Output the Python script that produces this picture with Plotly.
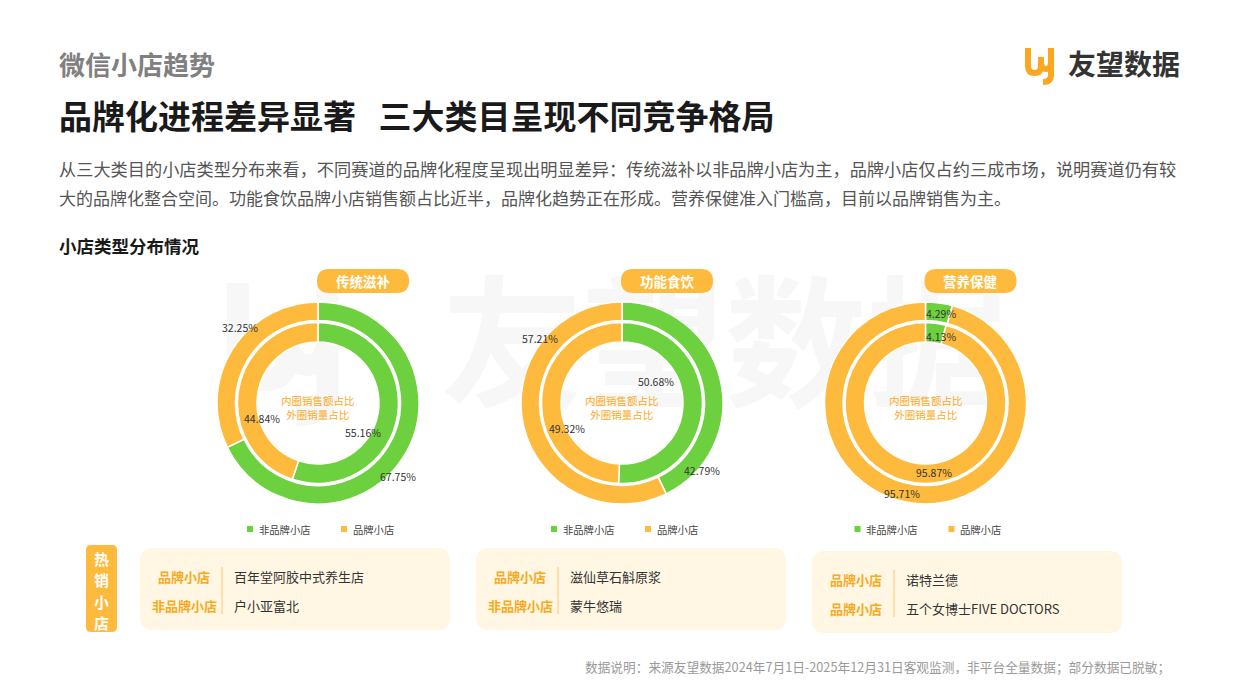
import plotly.graph_objects as go

# ---------------- data ----------------
categories = ["传统滋补", "功能食饮", "营养保健"]
shop_types = ["非品牌小店", "品牌小店"]
nonbrand_volume = [67.75, 42.79, 4.29]   # outer ring (销量占比)
brand_volume = [32.25, 57.21, 95.71]
nonbrand_sales = [55.16, 50.68, 4.13]    # inner ring (销售额占比)
brand_sales = [44.84, 49.32, 95.87]
row1_types = ["品牌小店", "品牌小店", "品牌小店"]
row1_shops = ["百年堂阿胶中式养生店", "滋仙草石斛原浆", "诺特兰德"]
row2_types = ["非品牌小店", "非品牌小店", "品牌小店"]
row2_shops = ["户小亚富北", "蒙牛悠瑞", "五个女博士FIVE DOCTORS"]
hot_title = ["热", "销", "小", "店"]

# ---------------- layout constants ----------------
W, H = 1240, 697
FONT = "Noto Sans CJK SC, Noto Sans, sans-serif"
GREEN = "#6DD13F"
ORANGE = "#FDBA3C"
LABEL_ORANGE = "#F9A91E"
WATERMARK = "#F7F7F7"
centers_x = [318, 622, 925.5]
center_y = 403
R_OUT, R_MID_OUT, R_MID_IN, R_HOLE = 101, 82.5, 80.5, 61
# per-label pixel offsets from donut centre: (outer non-brand, outer brand, inner non-brand, inner brand)
label_offsets = [
    [(80, 73), (-78, -76), (45, 29), (-56, 15)],
    [(80, 67), (-82, -65), (34, -22), (-55, 25)],
    [(15, -90), (-24, 90), (15, -67), (8, 69)],
]

fig = go.Figure()
# invisible cartesian frame used for pixel-based layout of shapes/annotations
fig.add_trace(go.Scatter(x=[], y=[], showlegend=False, hoverinfo="skip"))


def dom(cx, cy, r):
    return dict(x=[(cx - r) / W, (cx + r) / W], y=[1 - (cy + r) / H, 1 - (cy - r) / H])


for i, cx in enumerate(centers_x):
    fig.add_trace(go.Pie(
        labels=shop_types, values=[nonbrand_volume[i], brand_volume[i]],
        domain=dom(cx, center_y, R_OUT), hole=R_MID_OUT / R_OUT,
        sort=False, direction="clockwise", rotation=0,
        marker=dict(colors=[GREEN, ORANGE], line=dict(color="white", width=1.5)),
        textinfo="none", hoverinfo="skip", showlegend=False,
    ))
    fig.add_trace(go.Pie(
        labels=shop_types, values=[nonbrand_sales[i], brand_sales[i]],
        domain=dom(cx, center_y, R_MID_IN), hole=R_HOLE / R_MID_IN,
        sort=False, direction="clockwise", rotation=0,
        marker=dict(colors=[GREEN, ORANGE], line=dict(color="white", width=1.5)),
        textinfo="none", hoverinfo="skip", showlegend=False,
    ))

shapes = []
annotations = []


def text(x, y, s, size, color, xanchor="left", bold=False, yanchor="middle"):
    annotations.append(dict(
        x=x, y=y, xref="x", yref="y", text=f"<b>{s}</b>" if bold else s,
        showarrow=False, xanchor=xanchor, yanchor=yanchor,
        font=dict(family=FONT, size=size, color=color), align="center",
    ))


def rrect(x0, y0, x1, y1, r):
    return (f"M {x0 + r},{y0} L {x1 - r},{y0} Q {x1},{y0} {x1},{y0 + r} "
            f"L {x1},{y1 - r} Q {x1},{y1} {x1 - r},{y1} L {x0 + r},{y1} "
            f"Q {x0},{y1} {x0},{y1 - r} L {x0},{y0 + r} Q {x0},{y0} {x0 + r},{y0} Z")


def logo_paths(ox, oy, s):
    def p(x, y):
        return f"{ox + x * s},{oy + y * s}"
    return [
        f"M {p(3, 0)} L {p(3, 18)} Q {p(3, 25)} {p(9.5, 25)} Q {p(16, 25)} {p(16, 18)} L {p(16, 9)}",
        f"M {p(16, 14)} Q {p(16, 21)} {p(21, 21)} Q {p(26, 21)} {p(26, 14)}",
        f"M {p(26, 0)} L {p(26, 27)} Q {p(26, 34)} {p(18, 34)}",
    ]


# watermark
for d in logo_paths(226, 283, 3.9):
    shapes.append(dict(type="path", path=d, xref="x", yref="y", layer="below",
                       line=dict(color=WATERMARK, width=22), fillcolor="rgba(0,0,0,0)"))
shapes.append(dict(type="rect", x0=430, x1=1020, y0=282, y1=432, xref="x", yref="y", layer="below",
                   line=dict(width=0), fillcolor="rgba(0,0,0,0)",
                   label=dict(text="友望数据", textposition="middle center",
                              font=dict(family=FONT, size=142, color=WATERMARK, weight="bold"))))

# header
text(57, 63, "微信小店趋势", 26, "#808080", bold=True)
text(57, 115, "品牌化进程差异显著&nbsp;&nbsp;&nbsp;三大类目呈现不同竞争格局", 33, "#1A1A1A", bold=True)
for d in logo_paths(1025, 48, 1.0):
    shapes.append(dict(type="path", path=d, xref="x", yref="y",
                       line=dict(color="#FBA820", width=6), fillcolor="rgba(0,0,0,0)"))
text(1066, 63, "友望数据", 28, "#333333", bold=True)

text(57, 168, "从三大类目的小店类型分布来看，不同赛道的品牌化程度呈现出明显差异：传统滋补以非品牌小店为主，品牌小店仅占约三成市场，说明赛道仍有较",
     17.2, "#555555")
text(57, 197, "大的品牌化整合空间。功能食饮品牌小店销售额占比近半，品牌化趋势正在形成。营养保健准入门槛高，目前以品牌销售为主。",
     17, "#555555")
text(57, 245, "小店类型分布情况", 17.5, "#1A1A1A", bold=True)

# donut decorations
for i, cx in enumerate(centers_x):
    # category pill
    shapes.append(dict(type="path", path=rrect(cx - 1, 269, cx + 91, 293, 12), xref="x", yref="y",
                       fillcolor=ORANGE, line=dict(width=0)))
    text(cx + 45, 281, categories[i], 13.5, "white", xanchor="center", bold=True)
    # centre caption
    text(cx, 407, "内圈销售额占比<br>外圈销量占比", 10.5, "#FBAA25", xanchor="center")
    # value labels
    vals = [nonbrand_volume[i], brand_volume[i], nonbrand_sales[i], brand_sales[i]]
    for v, (dx, dy) in zip(vals, label_offsets[i]):
        text(cx + dx, center_y + dy, f"{v:.2f}%", 10.5, "#333333", xanchor="center")
    # legend
    for j, (off, col) in enumerate([(-68, GREEN), (26, ORANGE)]):
        shapes.append(dict(type="rect", x0=cx + off - 3, x1=cx + off + 3, y0=526, y1=532,
                           xref="x", yref="y", fillcolor=col, line=dict(width=0)))
        text(cx + off + 6.5, 529, shop_types[j], 10.3, "#444444")

# hot-selling shops
shapes.append(dict(type="path", path=rrect(86, 545, 117, 632, 5), xref="x", yref="y",
                   fillcolor=ORANGE, line=dict(width=0)))
for k, ch in enumerate(hot_title):
    text(101.5, 558 + k * 21.5, ch, 15, "white", xanchor="center", bold=True)

card_lefts = [140, 476, 812]
card_tops = [548, 548, 551]
for i, x0 in enumerate(card_lefts):
    y0 = card_tops[i]
    shapes.append(dict(type="path", path=rrect(x0, y0, x0 + 310, y0 + 82, 13), xref="x", yref="y",
                       fillcolor="#FFF7E3", line=dict(width=0)))
    shapes.append(dict(type="line", x0=x0 + 82, x1=x0 + 82, y0=y0 + 19, y1=y0 + 66, xref="x", yref="y",
                       line=dict(color="#FBD89A", width=1.5)))
    r1, r2 = y0 + 28, y0 + 57
    text(x0 + 44, r1, row1_types[i], 13, LABEL_ORANGE, xanchor="center", bold=True)
    text(x0 + 44, r2, row2_types[i], 13, LABEL_ORANGE, xanchor="center", bold=True)
    text(x0 + 92, r1, row1_shops[i], 13, "#333333")
    text(x0 + 92, r2, row2_shops[i], 13, "#333333")

text(1172, 666, "数据说明：来源友望数据2024年7月1日-2025年12月31日客观监测，非平台全量数据；部分数据已脱敏；",
     12.7, "#9A9A9A", xanchor="right")

fig.update_layout(
    width=W, height=H, margin=dict(l=0, r=0, t=0, b=0),
    paper_bgcolor="white", plot_bgcolor="rgba(0,0,0,0)",
    xaxis=dict(range=[0, W], visible=False, fixedrange=True, domain=[0, 1]),
    yaxis=dict(range=[H, 0], visible=False, fixedrange=True, domain=[0, 1]),
    shapes=shapes, annotations=annotations, showlegend=False,
    font=dict(family=FONT),
)

fig.write_html("out.html")
